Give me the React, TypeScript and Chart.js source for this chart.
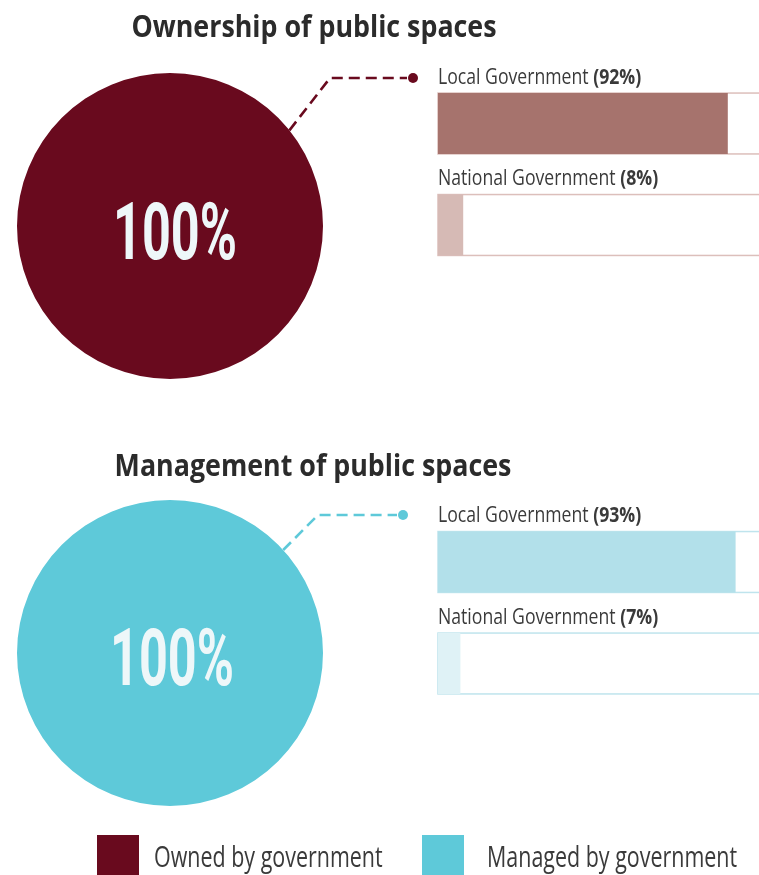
import React, { useEffect, useRef } from 'react';
import { Chart, registerables } from 'chart.js';

Chart.register(...registerables);

// ---------- data ----------
const sectionTitles = ['Ownership of public spaces', 'Management of public spaces'];
const circleValues = [100, 100];
const circleLabels = ['Owned by government', 'Managed by government'];
const barCategories = ['Local Government', 'National Government'];
const ownershipValues = [92, 8];
const managementValues = [93, 7];

// ---------- styles ----------
const MAROON = '#690a1e';
const TEAL = '#5ec9d9';
const TEXT = '#2b2b2b';
const LABEL = '#3a3a3a';
const CENTER_TEXT = '#eef7f9';
const FONT = '"Open Sans", "Liberation Sans", sans-serif';

function drawScaled(
  ctx: CanvasRenderingContext2D,
  text: string,
  x: number,
  y: number,
  font: string,
  sx: number,
  align: 'left' | 'center' = 'left'
): number {
  ctx.save();
  ctx.font = font;
  const w = ctx.measureText(text).width * sx;
  const left = align === 'center' ? x - w / 2 : x;
  ctx.translate(left, y);
  ctx.scale(sx, 1);
  ctx.textAlign = 'left';
  ctx.textBaseline = 'alphabetic';
  ctx.fillText(text, 0, 0);
  ctx.restore();
  return w;
}

type PieOpts = {
  title: string;
  titleX: number;
  titleY: number;
  value: number;
  label: string;
  color: string;
  padding: { left: number; top: number; right: number; bottom: number };
  centerDx: number;
  centerDy: number;
  leaderAngle: number;
  cornerX: number;
  cornerY: number;
  dotX: number;
  legend?: boolean;
};

function makePieConfig(o: PieOpts): any {
  const decor = {
    id: 'pieDecor',
    afterDatasetsDraw(chart: any) {
      const ctx: CanvasRenderingContext2D = chart.ctx;
      const arc = chart.getDatasetMeta(0).data[0] as any;
      const cx = arc.x;
      const cy = arc.y;
      const r = arc.outerRadius;
      // title
      ctx.fillStyle = TEXT;
      drawScaled(ctx, o.title, o.titleX, o.titleY, `bold 31px ${FONT}`, 0.865, 'center');
      // center value
      const centerFont = `bold 79px Roboto, "Liberation Sans", sans-serif`;
      ctx.save();
      ctx.font = centerFont;
      const txt = `${o.value}%`;
      const raw = ctx.measureText(txt).width;
      const sx = 124 / raw;
      ctx.restore();
      ctx.fillStyle = CENTER_TEXT;
      drawScaled(ctx, txt, cx + o.centerDx, cy + o.centerDy + 28, centerFont, sx, 'center');
      // leader line
      const a = (o.leaderAngle * Math.PI) / 180;
      const sxp = cx + r * Math.cos(a);
      const syp = cy + r * Math.sin(a);
      ctx.save();
      ctx.strokeStyle = o.color;
      ctx.lineWidth = 2.6;
      ctx.setLineDash([11, 6]);
      ctx.beginPath();
      ctx.moveTo(sxp, syp);
      ctx.lineTo(o.cornerX, o.cornerY);
      ctx.lineTo(o.dotX - 6, o.cornerY);
      ctx.stroke();
      ctx.setLineDash([]);
      ctx.fillStyle = o.color;
      ctx.beginPath();
      ctx.arc(o.dotX, o.cornerY, 5, 0, Math.PI * 2);
      ctx.fill();
      ctx.restore();
      // legend
      if (o.legend) {
        const items = [
          { text: circleLabels[0], color: MAROON, sq: 97, tx: 154 },
          { text: circleLabels[1], color: TEAL, sq: 422, tx: 487 },
        ];
        const base = chart.height - 40;
        items.forEach((it) => {
          ctx.fillStyle = it.color;
          ctx.fillRect(it.sq, base, 42, 40);
          ctx.fillStyle = LABEL;
          drawScaled(ctx, it.text, it.tx, base + 32, `29px ${FONT}`, 0.74, 'left');
        });
      }
    },
  };
  return {
    type: 'pie',
    data: {
      labels: [o.label],
      datasets: [{ data: [o.value], backgroundColor: [o.color], borderWidth: 0 }],
    },
    options: {
      animation: false,
      responsive: false,
      maintainAspectRatio: false,
      layout: { padding: o.padding },
      plugins: { legend: { display: false }, tooltip: { enabled: false } },
    },
    plugins: [decor],
  };
}

type BarOpts = {
  values: number[];
  colors: string[];
  border: string;
  padding: { left: number; top: number; right: number; bottom: number };
};

function makeBarConfig(o: BarOpts): any {
  const track = {
    id: 'track',
    beforeDatasetsDraw(chart: any) {
      const ctx: CanvasRenderingContext2D = chart.ctx;
      const meta = chart.getDatasetMeta(0);
      const left = chart.chartArea.left;
      meta.data.forEach((el: any) => {
        const h = el.height;
        const top = el.y - h / 2;
        ctx.save();
        ctx.fillStyle = '#ffffff';
        ctx.fillRect(left, top, chart.width + 10 - left, h);
        ctx.strokeStyle = o.border;
        ctx.lineWidth = 1.5;
        ctx.strokeRect(left, top, chart.width + 10 - left, h);
        ctx.restore();
      });
    },
    afterDatasetsDraw(chart: any) {
      const ctx: CanvasRenderingContext2D = chart.ctx;
      const meta = chart.getDatasetMeta(0);
      const left = chart.chartArea.left;
      meta.data.forEach((el: any, i: number) => {
        const top = el.y - el.height / 2;
        const y = top - 9.5;
        ctx.fillStyle = LABEL;
        const w = drawScaled(ctx, `${barCategories[i]} `, left, y, `21px ${FONT}`, 0.84, 'left');
        drawScaled(ctx, `(${o.values[i]}%)`, left + w, y, `bold 21px ${FONT}`, 0.84, 'left');
      });
    },
  };
  return {
    type: 'bar',
    data: {
      labels: barCategories,
      datasets: [
        {
          data: o.values,
          backgroundColor: o.colors,
          borderWidth: 0,
          barPercentage: 1,
          categoryPercentage: 0.6,
        },
      ],
    },
    options: {
      indexAxis: 'y',
      animation: false,
      responsive: false,
      maintainAspectRatio: false,
      layout: { padding: o.padding },
      scales: {
        x: { display: false, min: 0, max: 100 },
        y: { display: false },
      },
      plugins: { legend: { display: false }, tooltip: { enabled: false } },
    },
    plugins: [track],
  };
}

function ChartCanvas({ left, top, width, height, config }: { left: number; top: number; width: number; height: number; config: () => any }) {
  const ref = useRef<HTMLCanvasElement | null>(null);
  useEffect(() => {
    if (!ref.current) return;
    const chart = new Chart(ref.current, config());
    return () => chart.destroy();
  }, []);
  return (
    <canvas
      ref={ref}
      width={width}
      height={height}
      style={{ position: 'absolute', left, top, width, height }}
    />
  );
}

export default function App() {
  return (
    <div
      style={{
        position: 'fixed',
        left: 0,
        top: 0,
        width: 759,
        height: 875,
        background: '#ffffff',
        overflow: 'hidden',
      }}
    >
      <ChartCanvas
        left={0}
        top={0}
        width={759}
        height={420}
        config={() =>
          makePieConfig({
            title: sectionTitles[0],
            titleX: 314,
            titleY: 37,
            value: circleValues[0],
            label: circleLabels[0],
            color: MAROON,
            padding: { left: 17, top: 73, right: 436, bottom: 41 },
            centerDx: 5,
            centerDy: 5,
            leaderAngle: -38.7,
            cornerX: 330,
            cornerY: 78,
            dotX: 413,
          })
        }
      />
      <ChartCanvas
        left={0}
        top={420}
        width={759}
        height={455}
        config={() =>
          makePieConfig({
            title: sectionTitles[1],
            titleX: 313,
            titleY: 56,
            value: circleValues[1],
            label: circleLabels[1],
            color: TEAL,
            padding: { left: 17, top: 80, right: 436, bottom: 69 },
            centerDx: 2,
            centerDy: 4,
            leaderAngle: -42.3,
            cornerX: 318,
            cornerY: 95,
            dotX: 403,
            legend: true,
          })
        }
      />
      <ChartCanvas
        left={430}
        top={50}
        width={329}
        height={230}
        config={() =>
          makeBarConfig({
            values: ownershipValues,
            colors: ['#a6736d', '#d6bab5'],
            border: '#dcbfbb',
            padding: { left: 8, top: 22.75, right: 6, bottom: 4.25 },
          })
        }
      />
      <ChartCanvas
        left={430}
        top={490}
        width={329}
        height={230}
        config={() =>
          makeBarConfig({
            values: managementValues,
            colors: ['#b2e0ea', '#dff2f6'],
            border: '#bfe4ed',
            padding: { left: 8, top: 21.25, right: 1, bottom: 5.75 },
          })
        }
      />
    </div>
  );
}
